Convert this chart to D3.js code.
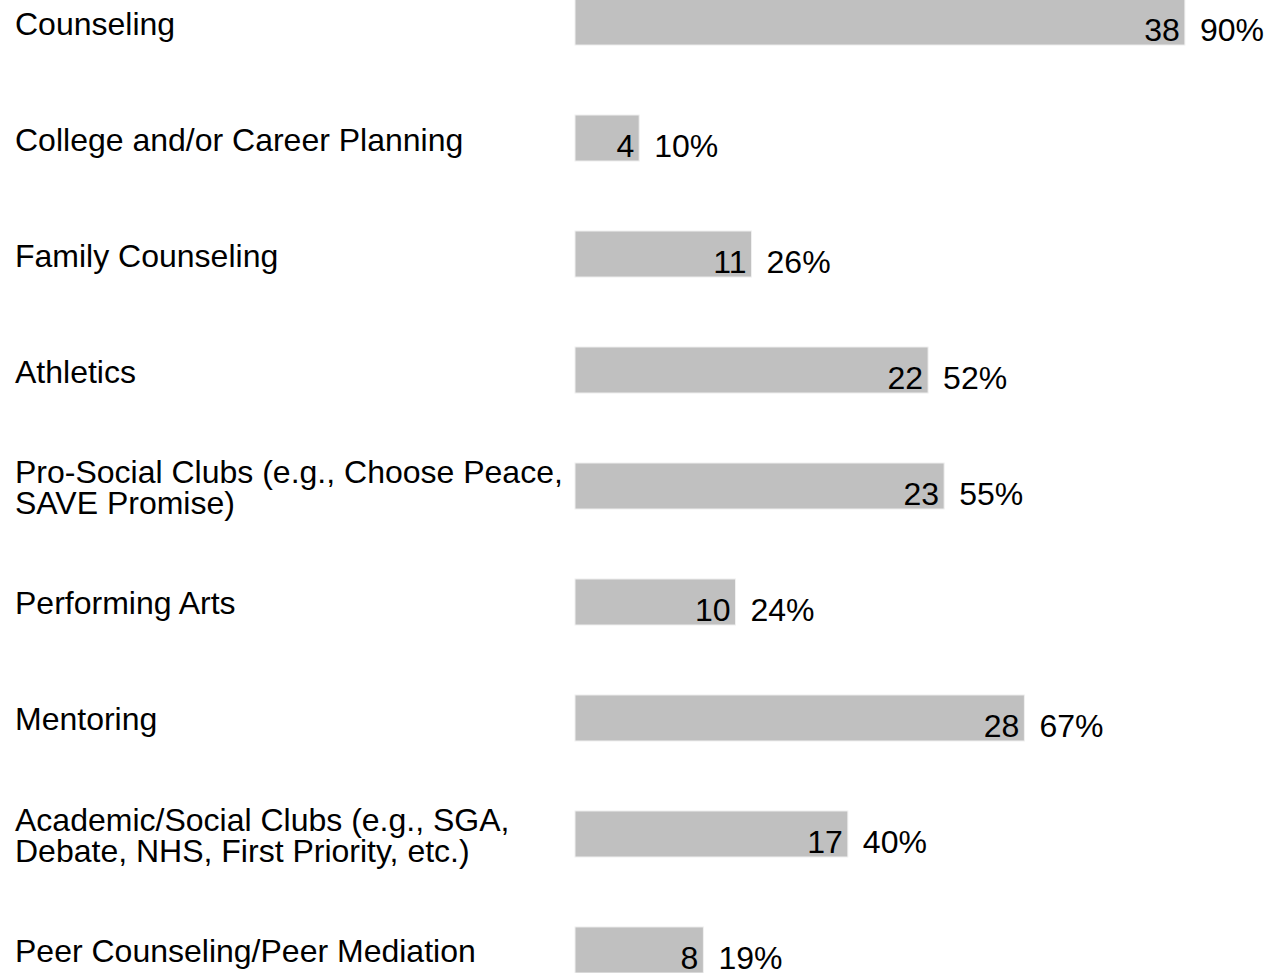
<!DOCTYPE html>
<html>
<head>
<meta charset="utf-8">
<script src="https://cdn.jsdelivr.net/npm/d3@7"></script>
<style>
html,body{margin:0;padding:0;background:#fff;}
svg{display:block;font-family:"Liberation Sans",Arial,sans-serif;}
</style>
</head>
<body>
<svg id="chart" width="1268" height="973"></svg>
<script>
const categories = [
  ["Counseling"],
  ["College and/or Career Planning"],
  ["Family Counseling"],
  ["Athletics"],
  ["Pro-Social Clubs (e.g., Choose Peace,", "SAVE Promise)"],
  ["Performing Arts"],
  ["Mentoring"],
  ["Academic/Social Clubs (e.g., SGA,", "Debate, NHS, First Priority, etc.)"],
  ["Peer Counseling/Peer Mediation"]
];
const counts = [38, 4, 11, 22, 23, 10, 28, 17, 8];
const percents = ["90%", "10%", "26%", "52%", "55%", "24%", "67%", "40%", "19%"];

const svg = d3.select("#chart");
const keys = categories.map((c, i) => i);

const y = d3.scaleBand()
  .domain(keys)
  .range([-1, 973])
  .paddingInner(0.603)
  .paddingOuter(0);

const x = d3.scaleLinear()
  .domain([0, 40])
  .range([575, 575 + 642]);

const fontSize = 32;
const lineH = 31;

const rows = svg.selectAll("g.row")
  .data(keys)
  .enter().append("g")
  .attr("class", "row");

rows.append("rect")
  .attr("x", x(0))
  .attr("y", i => y(i))
  .attr("width", i => x(counts[i]) - x(0))
  .attr("height", y.bandwidth())
  .attr("fill", "#c0c0c0")
  .attr("stroke", "#f0f0f0")
  .attr("stroke-width", 1);

rows.each(function(i) {
  const g = d3.select(this);
  const lines = categories[i];
  const center = y(i) + y.bandwidth() / 2;
  const base0 = center + 13.5 - (lines.length - 1) * lineH / 2 - 1;
  const t = g.append("text")
    .attr("x", 15)
    .attr("font-size", fontSize)
    .attr("fill", "#000");
  lines.forEach((ln, k) => {
    t.append("tspan")
      .attr("x", 15)
      .attr("y", base0 + k * lineH)
      .text(ln);
  });
});

rows.append("text")
  .attr("x", i => x(counts[i]) - 5)
  .attr("y", i => y(i) + 42)
  .attr("text-anchor", "end")
  .attr("font-size", fontSize)
  .attr("fill", "#000")
  .text(i => counts[i]);

rows.append("text")
  .attr("x", i => x(counts[i]) + 15)
  .attr("y", i => y(i) + 42)
  .attr("font-size", fontSize)
  .attr("fill", "#000")
  .text(i => percents[i]);
</script>
</body>
</html>
